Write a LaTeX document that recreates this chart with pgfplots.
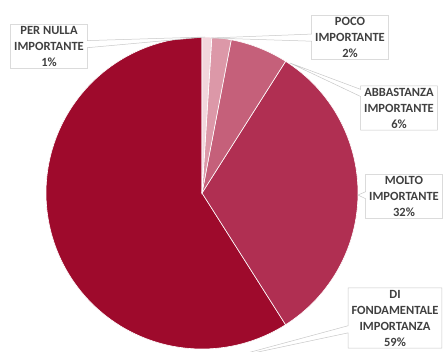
\documentclass[border=0pt]{standalone}
\usepackage{pgfplots}
\pgfplotsset{compat=1.18}
\usepackage{pgfplotstable}
\usepackage{fontspec}
\setmainfont{Carlito}
\usetikzlibrary{shapes.callouts}
\definecolor{cA}{HTML}{F2D6DC}
\definecolor{cB}{HTML}{DC98A8}
\definecolor{cC}{HTML}{C5607A}
\definecolor{cD}{HTML}{B02F52}
\definecolor{cE}{HTML}{9E0A2C}
\definecolor{txt}{HTML}{404040}
\definecolor{bord}{HTML}{C8C8C8}
\tikzset{lbl/.style={rectangle callout, draw=bord, fill=white, line width=0.5pt, align=center,
  font=\bfseries\fontsize{12.5}{16}\selectfont, text=txt, inner xsep=3.5pt, inner ysep=2pt}}
\pgfplotstableread{
label pct
PerNulla 1
Poco 2
Abbastanza 6
Molto 32
Fondamentale 59
}\piedata
\begin{document}
\begin{tikzpicture}
\pgfplotstablegetelem{0}{pct}\of\piedata \pgfmathsetmacro{\aA}{90-3.6*\pgfplotsretval}
\pgfplotstablegetelem{1}{pct}\of\piedata \pgfmathsetmacro{\aB}{\aA-3.6*\pgfplotsretval}
\pgfplotstablegetelem{2}{pct}\of\piedata \pgfmathsetmacro{\aC}{\aB-3.6*\pgfplotsretval}
\pgfplotstablegetelem{3}{pct}\of\piedata \pgfmathsetmacro{\aD}{\aC-3.6*\pgfplotsretval}
\pgfplotstablegetelem{4}{pct}\of\piedata \pgfmathsetmacro{\aE}{\aD-3.6*\pgfplotsretval}
\begin{axis}[scale only axis,
  width=443pt, height=351pt, xmin=0, xmax=443, ymin=0, ymax=351,
  hide axis, clip=false]
\path (axis cs:0,0) rectangle (axis cs:443,351);
\begin{scope}
\clip (axis cs:0,0) rectangle (axis cs:443,351);
\addplot[fill=cE, draw=white, line width=0.6pt, domain=\aE:\aD, samples=120, variable=\t] ({202+156*cos(\t)},{158+156*sin(\t)}) -- (axis cs:202,158) -- cycle;
\addplot[fill=cD, draw=white, line width=0.6pt, domain=\aD:\aC, samples=80, variable=\t] ({202+156*cos(\t)},{158+156*sin(\t)}) -- (axis cs:202,158) -- cycle;
\addplot[fill=cC, draw=white, line width=0.6pt, domain=\aC:\aB, samples=30, variable=\t] ({202+156*cos(\t)},{158+156*sin(\t)}) -- (axis cs:202,158) -- cycle;
\addplot[fill=cB, draw=white, line width=0.6pt, domain=\aB:\aA, samples=15, variable=\t] ({202+156*cos(\t)},{158+156*sin(\t)}) -- (axis cs:202,158) -- cycle;
\addplot[fill=cA, draw=white, line width=0.6pt, domain=\aA:90, samples=10, variable=\t] ({202+156*cos(\t)},{158+156*sin(\t)}) -- (axis cs:202,158) -- cycle;
\node[lbl, callout absolute pointer={(axis cs:205,314)}] at (axis cs:49,304.5) {PER NULLA\\IMPORTANTE\\1\%};
\node[lbl, callout absolute pointer={(axis cs:211,313)}] at (axis cs:350,313.5) {POCO\\IMPORTANTE\\2\%};
\node[lbl, callout absolute pointer={(axis cs:290,288)}] at (axis cs:399,243) {ABBASTANZA\\IMPORTANTE\\6\%};
\node[lbl, callout absolute pointer={(axis cs:358,156)}] at (axis cs:404,154.5) {MOLTO\\IMPORTANTE\\32\%};
\node[lbl, callout absolute pointer={(axis cs:225,-8)}] at (axis cs:395,33) {DI\\FONDAMENTALE\\IMPORTANZA\\59\%};
\end{scope}
\end{axis}
\end{tikzpicture}
\end{document}
